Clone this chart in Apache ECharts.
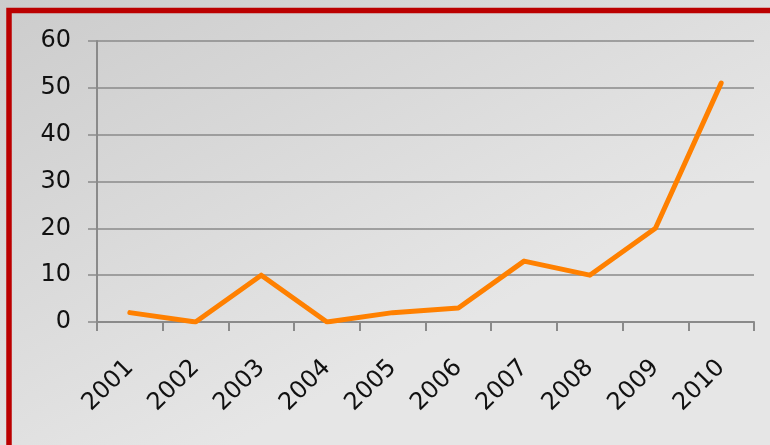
<!DOCTYPE html>
<html>
<head>
<meta charset="utf-8">
<script src="https://cdn.jsdelivr.net/npm/echarts@6/dist/echarts.min.js"></script>
<style>
  html, body { margin: 0; padding: 0; }
  #chart { width: 770px; height: 445px; }
</style>
</head>
<body>
<div id="chart"></div>
<script>
// chart data
var years = ["2001", "2002", "2003", "2004", "2005", "2006", "2007", "2008", "2009", "2010"];
var values = [2, 0, 10, 0, 2, 3, 13, 10, 20, 51];
var yTicks = [0, 10, 20, 30, 40, 50, 60];

var myChart = echarts.init(document.getElementById("chart"), null, { renderer: "canvas" });

var option = {
  backgroundColor: {
    type: "linear",
    x: 0, y: 0, x2: 0.3, y2: 1,
    colorStops: [
      { offset: 0, color: "#cccccc" },
      { offset: 1, color: "#e6e6e6" }
    ]
  },
  animation: false,
  textStyle: { fontFamily: "DejaVu Sans" },
  // red frame, open at right and bottom
  graphic: [
    {
      type: "polyline",
      shape: { points: [[9, 900], [9, 10.5], [1600, 10.5]] },
      style: { fill: null, stroke: "#bb0000", lineWidth: 5.5 },
      silent: true
    }
  ],
  grid: {
    left: 97,
    right: 16,
    top: 41,
    bottom: 123,
    containLabel: false
  },
  xAxis: {
    type: "category",
    data: years,
    boundaryGap: true,
    axisLine: { lineStyle: { color: "#8a8a8a", width: 2 } },
    axisTick: { show: true, length: 9, lineStyle: { color: "#8a8a8a", width: 2 } },
    axisLabel: {
      interval: 0,
      rotate: 45,
      margin: 42,
      fontSize: 24,
      color: "#111"
    },
    splitLine: { show: false }
  },
  yAxis: {
    type: "value",
    min: yTicks[0],
    max: yTicks[yTicks.length - 1],
    interval: 10,
    axisLine: { show: true, lineStyle: { color: "#8a8a8a", width: 2 } },
    axisTick: { show: true, length: 9, lineStyle: { color: "#8a8a8a", width: 1.5 } },
    axisLabel: {
      margin: 26,
      fontSize: 24,
      color: "#111"
    },
    splitLine: { show: true, lineStyle: { color: "#8a8a8a", width: 1.5 } }
  },
  series: [
    {
      type: "line",
      data: values,
      symbol: "none",
      lineStyle: { color: "#ff8000", width: 5, cap: "round", join: "round" }
    }
  ]
};

myChart.setOption(option, true);
</script>
</body>
</html>
